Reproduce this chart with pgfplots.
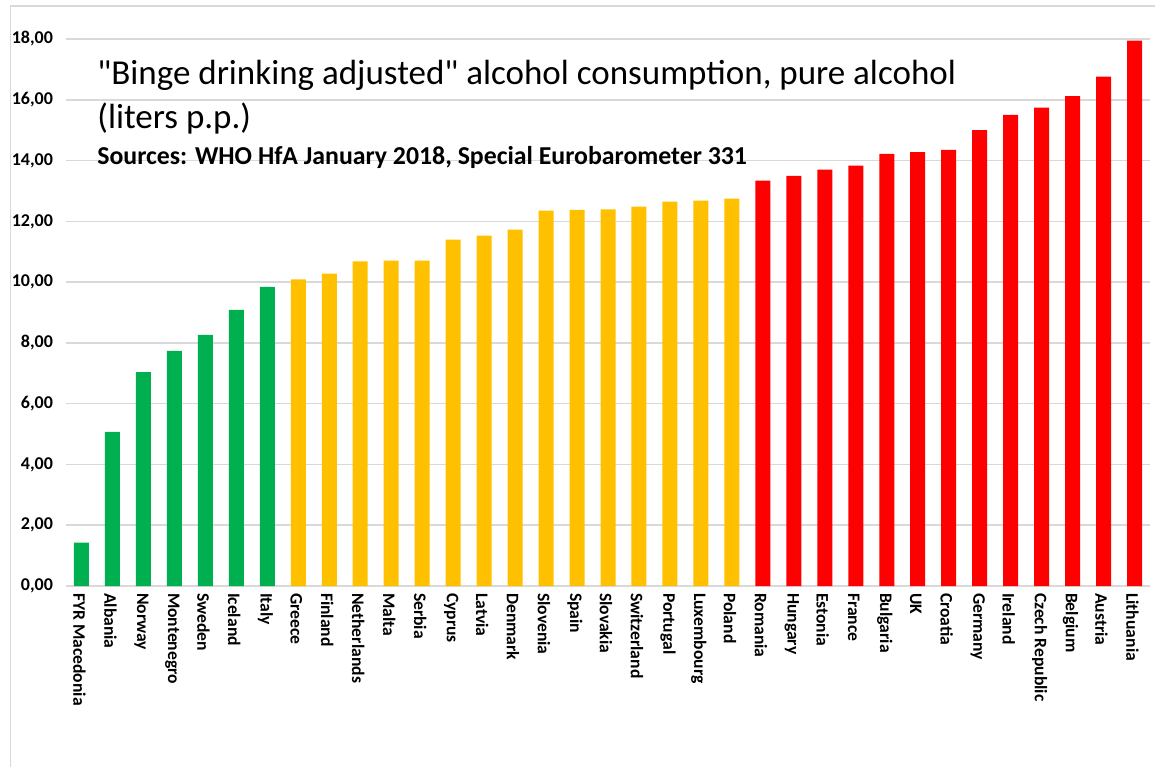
\documentclass[border=0pt]{standalone}
\usepackage{pgfplots}
\pgfplotsset{compat=1.18}
\usepackage{fontspec}
\setmainfont{Carlito}
\newfontfamily\titlefont{Carlito}
\definecolor{cgreen}{HTML}{00B050}
\definecolor{cyellow}{HTML}{FFC000}
\definecolor{cred}{HTML}{FF0000}
\definecolor{gridgray}{HTML}{D9D9D9}
\begin{document}
\begin{tikzpicture}
\path[use as bounding box] (0,0) rectangle (577.5pt,383.5pt);
\draw[gridgray, line width=0.8pt] (5.25pt,0) -- (5.25pt,380.5pt) -- (577.5pt,380.5pt);
\begin{axis}[
  at={(33pt,90.5pt)}, anchor=south west,
  scale only axis, width=542pt, height=273.5pt,
  xmin=-0.5, xmax=34.5, ymin=0, ymax=18,
  ybar, bar width=7.5pt, bar shift=0pt,
  axis line style={draw=none},
  ymajorgrids, major grid style={gridgray, line width=0.8pt},
  major tick length=0pt,
  ytick={0,2,...,18},
  /pgf/number format/fixed, /pgf/number format/fixed zerofill,
  /pgf/number format/precision=2, /pgf/number format/use comma,
  /pgf/number format/assume math mode=true,
  yticklabel style={font=\bfseries\fontsize{9}{10}\selectfont, xshift=-3pt},
  xtick={0,...,34},
  xticklabels={FYR Macedonia, Albania, Norway, Montenegro, Sweden, Iceland, Italy, Greece, Finland, Netherlands, Malta, Serbia, Cyprus, Latvia, Denmark, Slovenia, Spain, Slovakia, Switzerland, Portugal, Luxembourg, Poland, Romania, Hungary, Estonia, France, Bulgaria, UK, Croatia, Germany, Ireland, Czech Republic, Belgium, Austria, Lithuania},
  xticklabel style={rotate=-90, anchor=west, font=\bfseries\fontsize{8.8}{10}\selectfont, yshift=-1pt},
  clip=false,
]
\addplot[fill=cgreen, draw=none] coordinates {
(0,1.43) (1,5.07) (2,7.04) (3,7.74) (4,8.26) (5,9.09) (6,9.84)};
\addplot[fill=cyellow, draw=none] coordinates {
(7,10.09) (8,10.28) (9,10.68) (10,10.71) (11,10.71) (12,11.40) (13,11.53) (14,11.73) (15,12.35) (16,12.38) (17,12.39) (18,12.48) (19,12.65) (20,12.68) (21,12.75)};
\addplot[fill=cred, draw=none] coordinates {
(22,13.34) (23,13.50) (24,13.70) (25,13.83) (26,14.22) (27,14.28) (28,14.35) (29,15.00) (30,15.50) (31,15.74) (32,16.12) (33,16.76) (34,17.95)};
\end{axis}
\node[anchor=base west, inner sep=0pt, font=\titlefont\fontsize{17.5}{20}\selectfont] at (48.5pt,341pt) {"Binge drinking adjusted" alcohol consumption, pure alcohol};
\node[anchor=base west, inner sep=0pt, font=\titlefont\fontsize{17.5}{20}\selectfont] at (48.5pt,319pt) {(liters p.p.)};
\node[anchor=base west, inner sep=0pt, font=\bfseries\fontsize{12.9}{14}\selectfont] at (48.5pt,301pt) {Sources: WHO HfA January 2018, Special Eurobarometer 331};
\end{tikzpicture}
\end{document}
